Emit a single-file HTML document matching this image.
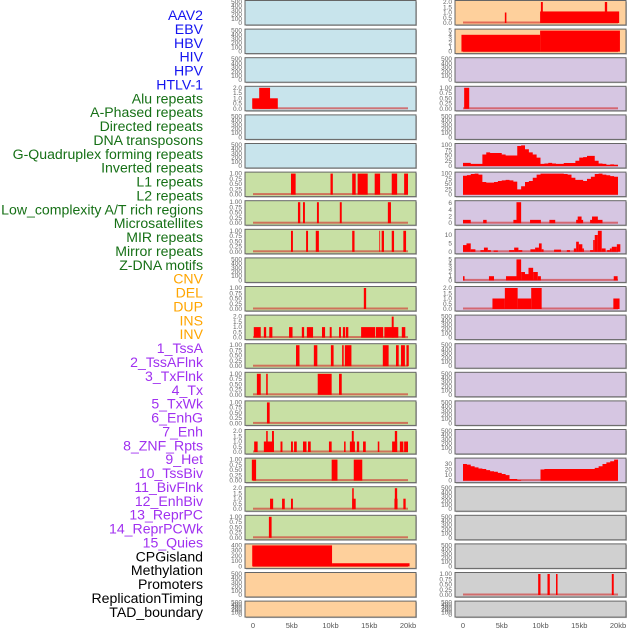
<!DOCTYPE html>
<html><head><meta charset="utf-8"><style>
body{margin:0;background:#fff;width:630px;height:630px;overflow:hidden}
svg{display:block;font-family:"Liberation Sans",sans-serif}
</style></head><body>
<svg id="chart" width="630" height="630" viewBox="0 0 630 630" xmlns="http://www.w3.org/2000/svg"></svg>
<script>
const labels=["AAV2","EBV","HBV","HIV","HPV","HTLV-1","Alu repeats","A-Phased repeats","Directed repeats","DNA transposons","G-Quadruplex forming repeats","Inverted repeats","L1 repeats","L2 repeats","Low_complexity A/T rich regions","Microsatellites","MIR repeats","Mirror repeats","Z-DNA motifs","CNV","DEL","DUP","INS","INV","1_TssA","2_TssAFlnk","3_TxFlnk","4_Tx","5_TxWk","6_EnhG","7_Enh","8_ZNF_Rpts","9_Het","10_TssBiv","11_BivFlnk","12_EnhBiv","13_ReprPC","14_ReprPCWk","15_Quies","CPGisland","Methylation","Promoters","ReplicationTiming","TAD_boundary"];
const labelGroups=[6,13,5,15,5];
const groupColors=["#1414f0","#167016","#ffa500","#a030f0","#000000"];
const xTicks=[0,5,10,15,20];
const xTickLabels=["0","5kb","10kb","15kb","20kb"];
const T500=[0,100,200,300,400,500], T1=[0,0.25,0.5,0.75,1], T2=[0,0.5,1,1.5,2];
const leftPanels=[
 ["blue",500,T500,[],null],["blue",500,T500,[],null],["blue",500,T500,[],null],
 ["blue",2,T2,[[-0.1,3.2,1],[0.8,2.2,2]],null],
 ["blue",500,T500,[],null],["blue",500,T500,[],null],
 ["green",1,T1,[[4.9,5.5,1],[10,10.3,1],[12.8,13.25,1],[13.5,14.8,1],[15.7,16.4,1],[17.9,18.6,1],[19.5,20,1]],null],
 ["green",1,T1,[[5.8,6.1,1],[6.45,6.7,1],[8.25,8.5,1],[11.2,11.45,1],[17.4,17.8,1]],null],
 ["green",1,T1,[[4.9,5.15,1],[6.85,7.1,1],[8.1,8.5,1],[12.8,13.1,1],[16.3,16.4,1],[16.6,16.9,1],[17.9,18.2,1],[19.4,19.75,1]],null],
 ["green",500,T500,[],null],
 ["green",1,T1,[[14.3,14.6,1]],null],
 ["green",2,T2,[[0.1,1,1],[1.4,1.7,1],[2.1,2.5,1],[4.65,5.1,1],[6.3,6.6,1],[6.95,7.75,1],[8.9,9.3,1],[9.9,10.15,1],[11.1,11.35,1],[11.6,11.9,1],[12,12.3,1],[13.95,15.75,1],[15.85,16.8,1],[16.95,18.75,1],[19.2,19.65,1],[17.9,18.15,2]],null],
 ["green",1,T1,[[5.55,6,1],[7.85,8.3,1],[10.05,10.4,1],[11.5,11.7,1],[11.85,12.7,1],[16.75,17.5,1],[18.45,18.8,1],[19.1,19.6,1],[19.8,20.1,1]],null],
 ["green",1,T1,[[0.5,1,1],[1.7,1.9,1],[8.35,10.15,1],[11.1,11.45,1]],null],
 ["green",1,T1,[[1.8,2.15,1]],null],
 ["green",2,T2,[[0.15,0.6,1],[1.4,2.7,1],[3.55,3.8,1],[4.9,5.15,1],[5.3,5.65,1],[6.45,6.9,1],[7.1,7.45,1],[9.8,10.15,1],[11.75,11.95,1],[12.5,13.15,1],[13.4,13.7,1],[14.2,14.55,1],[16.1,16.3,1],[17.95,18.6,1],[18.95,19.4,1],[19.5,20,1],[1.7,1.9,2],[2.45,2.7,2],[12.75,13,2],[18.3,18.6,2]],null],
 ["green",1,T1,[[-0.15,0.4,1],[10.15,10.9,1],[13,14.1,1]],null],
 ["green",2,T2,[[2.2,2.6,1],[3.75,4.1,1],[4.9,5.15,1],[12.8,13.25,1],[18.25,18.65,1],[19.4,19.7,1],[12.8,13,2],[18.3,18.6,2]],null],
 ["green",1,T1,[[2.05,2.4,1]],null],
 ["orange",400,[0,100,200,300,400],[[-0.1,10.2,400],[10.2,20.2,60]],null],
 ["orange",500,T500,[],null],["orange",500,T500,[],null]
];
const r5area=[15,15,10,10,10,55,65,62,62,62,55,50,50,50,95,98,80,65,55,40,10,12,15,12,10,10,14,14,14,25,40,42,48,48,25,12,10,5,8,5];
const r6area=[90,93,98,100,95,60,57,57,60,65,68,70,68,62,25,40,60,65,80,95,100,100,100,100,100,100,98,95,80,70,70,65,75,85,98,100,95,92,88,85];
const r16area=[30,29,26,24,22,21,19,17,16,14,12,10,3,3,1,0,0,0,0,0,20,21,21,21,21,21,21,21,21,21,21,21,21,21,23,26,30,33,35,38];
const rightPanels=[
 ["orange",2,T2,[[5.4,5.6,1],[9.95,20.15,1.1],[10.05,10.3,2],[18.3,18.6,2]],null],
 ["orange",5,[0,1,2,3,4,5],[[-0.2,9.95,4],[9.95,20.25,5]],null],
 ["purple",500,T500,[],null],
 ["purple",1,T1,[[0.15,0.8,1]],null],
 ["purple",500,T500,[],null],
 ["purple",100,[0,25,50,75,100],[],r5area],
 ["purple",100,[0,25,50,75,100],[],r6area],
 ["purple",6.3,[0,2,4,6],[[0,1,1],[2.6,3.05,1],[6.5,6.9,1],[6.9,7.5,6.3],[8.65,10.05,1],[11.15,11.9,1],[14.6,15.5,1],[14.8,15.3,2],[16.4,18,1],[16.65,17.4,2]],null],
 ["purple",12.5,[0,5,10],[[0,0.45,4],[0.45,1,5],[1,1.6,1.5],[2.25,2.7,1],[2.7,3.2,2.5],[3.2,3.6,1],[3.95,4.5,0.8],[5.95,6.6,1],[6.6,7.15,2.5],[7.15,7.65,1],[8.7,9.3,1.5],[9.3,9.8,2.5],[9.8,10.15,5],[10.15,10.4,1.5],[11.75,12.65,1.3],[13.4,13.8,1],[14.3,14.6,2],[14.6,14.95,6],[14.95,15.4,4.5],[15.4,15.6,2],[16.4,16.8,1],[16.8,17,7],[17,17.4,10],[17.4,17.9,12.5],[17.9,18.4,2],[18.6,18.95,1],[18.95,19.2,2],[19.2,19.85,3],[19.85,20.3,4.5]],null],
 ["purple",5,[0,1,2,3,4,5],[[0,0.2,1],[3.35,4,1],[5.55,6.9,1],[6.9,7.5,5],[7.5,8,2],[8,8.45,1.5],[8.45,9.05,3],[9.05,9.65,2],[9.65,10.05,1],[19.45,19.95,1]],null],
 ["purple",2,T2,[[3.8,5.4,1],[5.4,7.05,2],[7.05,8.8,1],[8.8,10.15,2],[19.4,20.2,1]],null],
 ["purple",500,T500,[],null],["purple",500,T500,[],null],["purple",500,T500,[],null],["purple",500,T500,[],null],["purple",500,T500,[],null],
 ["purple",38,[0,10,20,30],[],r16area],
 ["grey",500,T500,[],null],["grey",500,T500,[],null],["grey",500,T500,[],null],
 ["grey",1,T1,[[9.7,10,1],[10.9,11.2,1],[12,12.2,1],[19.2,19.45,1]],null],
 ["grey",500,T500,[],null]
];
const bgColors={blue:"#c8e4ec",green:"#c8e0a4",orange:"#fed09c",purple:"#d6c6e2",grey:"#d0d0d0"};
const NS="http://www.w3.org/2000/svg";
const svg=document.getElementById("chart");
function mk(tag,attrs,parent){const e=document.createElementNS(NS,tag);for(const k in attrs)e.setAttribute(k,attrs[k]);(parent||svg).appendChild(e);return e;}
let li=0;
labelGroups.forEach((n,g)=>{for(let k=0;k<n;k++){const t=mk("text",{x:203,y:(15+13.88*li+5).toFixed(1),"text-anchor":"end","font-size":"14.1",fill:groupColors[g]});
t.textContent=labels[li];


li++;}});
function rowTop(i){return 0.5+28.6*i;}
function rowH(i){return i===21?16:24.5;}
function decimals(ticks){let d=0;ticks.forEach(v=>{const s=String(v);if(s.includes("."))d=Math.max(d,s.split(".")[1].length);});return d;}
function drawPanel(p,col,i){
 const x0=col?455:245,x1=col?626:416;
 const top=rowTop(i),h=rowH(i),bot=top+h;
 const xs=kb=>(col?463:253)+kb*7.75;
 const yb=bot-2,yt=top+1.5;
 const ys=v=>yb-(v/p[1])*(yb-yt);
 const dec=decimals(p[2]);
 const g=mk("g",{});
 
 
 mk("rect",{x:x0+1,y:top+1,width:x1-x0,height:h,fill:"#bbb"},g);
 const r=mk("rect",{x:x0,y:top,width:x1-x0,height:h,fill:bgColors[p[0]],stroke:"#666","stroke-width":1},g);
 
 
 p[2].forEach(tv=>{const t=mk("text",{x:x0-3,y:(ys(tv)+2).toFixed(1),"text-anchor":"end","font-size":"6.5",fill:"#666"},g);t.textContent=tv.toFixed(dec);
  
  });
 const hasData=p[3].length||p[4];
 if(hasData){const bl=mk("rect",{x:xs(0),y:yb-1.5,width:xs(20)-xs(0),height:2,fill:"rgba(210,40,40,0.6)"},g);
  
  }
 p[3].forEach(b=>{const y=ys(b[2]);const br=mk("rect",{x:xs(b[0]).toFixed(2),y:y.toFixed(2),width:(xs(b[1])-xs(b[0])).toFixed(2),height:(yb-y).toFixed(2),fill:"#ff0000"},g);
  
  });
 if(p[4]){let d="M"+xs(0)+","+yb;p[4].forEach((v,k)=>{d+=" L"+xs(k*0.5).toFixed(2)+","+ys(v).toFixed(2)+" L"+xs(k*0.5+0.5).toFixed(2)+","+ys(v).toFixed(2);});d+=" L"+xs(20)+","+yb+" Z";
  const a=mk("path",{d:d,fill:"#ff0000"},g);
  
  }
}
leftPanels.forEach((p,i)=>drawPanel(p,0,i));
rightPanels.forEach((p,i)=>drawPanel(p,1,i));
[0,1].forEach(col=>{xTicks.forEach((v,k)=>{const t=mk("text",{x:(col?463:253)+v*7.75,y:628,"text-anchor":"middle","font-size":"7.5",fill:"#555"});t.textContent=xTickLabels[k];
 
 });});
</script>
</body></html>
